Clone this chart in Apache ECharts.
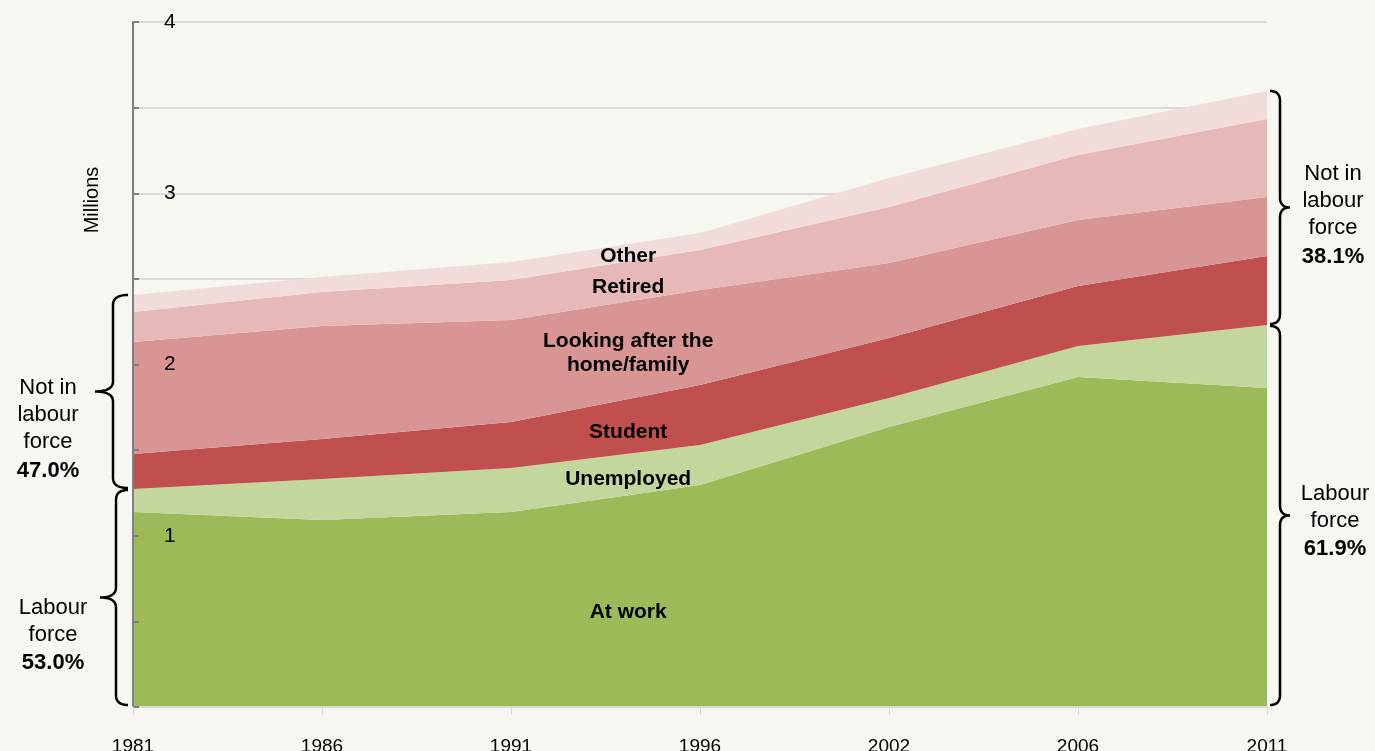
<!DOCTYPE html>
<html>
<head>
<meta charset="utf-8">
<script src="https://cdn.jsdelivr.net/npm/echarts@6/dist/echarts.min.js"></script>
<style>
  html, body { margin: 0; padding: 0; background: #f6f7f0; }
  #chart { width: 1375px; height: 751px; }
</style>
</head>
<body>
<div id="chart"></div>
<script>
const years = ['1981', '1986', '1991', '1996', '2002', '2006', '2011']
// millions of people
const atWork     = [1.139, 1.092, 1.139, 1.296, 1.635, 1.927, 1.863]
const unemployed = [0.134, 0.239, 0.257, 0.234, 0.169, 0.181, 0.368]
const student    = [0.204, 0.234, 0.268, 0.350, 0.351, 0.350, 0.403]
const homeFamily = [0.654, 0.660, 0.596, 0.555, 0.438, 0.386, 0.344]
const retired    = [0.176, 0.198, 0.233, 0.234, 0.327, 0.379, 0.456]
const other      = [0.099, 0.088, 0.106, 0.099, 0.169, 0.152, 0.163]

const seriesNames = ['At work', 'Unemployed', 'Student', 'Looking after the\nhome/family', 'Retired', 'Other']
const seriesData = [atWork, unemployed, student, homeFamily, retired, other]
const colors = ['#9bbb59', '#c3d69b', '#c0504d', '#d99594', '#e6b9b8', '#f2dcdb']

const firstShares = ['47.0%', '53.0%'] // not in labour force, labour force (1981)
const lastShares = ['38.1%', '61.9%']  // same for 2011

const FONT = 'Liberation Sans, Arial, sans-serif'

const chart = echarts.init(document.getElementById('chart'))

const yBase = { type: 'value', min: 0, max: 4, interval: 0.5 }

chart.setOption({
  backgroundColor: '#f6f7f0',
  animation: false,
  grid: { left: 133, right: 108, top: 22, bottom: 44, outerBoundsMode: 'none' },
  xAxis: {
    type: 'category',
    data: years,
    boundaryGap: false,
    axisLine: { lineStyle: { color: '#d9d9d9', width: 2 } },
    axisTick: { show: true, length: 8, lineStyle: { color: '#d9d9d9' } },
    axisLabel: { color: '#000', fontSize: 19, fontFamily: FONT, margin: 30, verticalAlign: 'top' },
    splitLine: { show: false },
    z: 10,
  },
  yAxis: [
    // grid lines only, behind the areas
    {
      ...yBase,
      axisLine: { show: false },
      axisTick: { show: false },
      axisLabel: { show: false },
      splitLine: { lineStyle: { color: '#d9d9d9', width: 2 } },
    },
    // axis line, ticks and labels on top
    {
      ...yBase,
      position: 'left',
      z: 10,
      axisLine: { show: true, lineStyle: { color: '#808080', width: 2 } },
      axisTick: { show: true, inside: true, length: 6, lineStyle: { color: '#808080', width: 2 } },
      axisLabel: {
        inside: true,
        margin: 31,
        color: '#000',
        fontSize: 21,
        fontFamily: FONT,
        padding: [8, 0, 0, 0],
        formatter: (v) => (v > 0 && v % 1 === 0 ? String(v) : ''),
      },
      splitLine: { show: false },
    },
  ],
  series: seriesNames.map((name, i) => ({
    name,
    type: 'line',
    stack: 'total',
    data: seriesData[i],
    symbol: 'none',
    lineStyle: { width: 0 },
    areaStyle: { color: colors[i], opacity: 1 },
    itemStyle: { color: colors[i] },
  })),
})

function px(idx, v) {
  return chart.convertToPixel({ gridIndex: 0 }, [years[idx], v])
}

function cumAt(idx, upto) {
  let s = 0
  for (let k = 0; k <= upto; k++) s += seriesData[k][idx]
  return s
}

function quad(pts, p0, c, p1) {
  for (let k = 1; k <= 10; k++) {
    const t = k / 10
    const u = 1 - t
    pts.push([u * u * p0[0] + 2 * u * t * c[0] + t * t * p1[0], u * u * p0[1] + 2 * u * t * c[1] + t * t * p1[1]])
  }
}

// curly brace from (x, y1) to (x, y2), bulging in dir
function bracePoints(x, y1, y2, dir, spine, tip) {
  const sx = x + dir * spine
  const tx = x + dir * tip
  const mid = (y1 + y2) / 2
  const r = 10
  const pts = [[x, y1]]
  quad(pts, [x, y1], [sx, y1], [sx, y1 + r])
  pts.push([sx, mid - r])
  quad(pts, [sx, mid - r], [sx, mid], [tx, mid])
  quad(pts, [tx, mid], [sx, mid], [sx, mid + r])
  pts.push([sx, y2 - r])
  quad(pts, [sx, y2 - r], [sx, y2], [x, y2])
  return pts
}

function brace(x, y1, y2, dir, spine, tip) {
  return {
    type: 'polyline',
    z: 100,
    shape: { points: bracePoints(x, y1, y2, dir, spine, tip) },
    style: { stroke: '#000', lineWidth: 2.5, fill: null },
  }
}

function braceText(x, y, lines, share) {
  return {
    type: 'text',
    x, y,
    z: 100,
    style: {
      text: lines + '\n{b|' + share + '}',
      font: '22px ' + FONT,
      fill: '#000',
      align: 'center',
      verticalAlign: 'middle',
      lineHeight: 27,
      rich: { b: { font: 'bold 22px ' + FONT, fill: '#000', lineHeight: 30 } },
    },
  }
}

// small vertical nudges for the band labels
const labelNudge = [11, 5, 6, 3, 6, 4]

function layoutGraphics() {
  const g = []
  const last = years.length - 1
  const base0 = px(0, 0)
  const lab0 = px(0, cumAt(0, 1))
  const tot0 = px(0, cumAt(0, 5))
  const baseN = px(last, 0)
  const labN = px(last, cumAt(last, 1))
  const totN = px(last, cumAt(last, 5))

  const lx = base0[0] - 5
  g.push(brace(lx, tot0[1], lab0[1] - 1, -1, 15, 33))
  g.push(brace(lx, lab0[1] + 1, base0[1] - 2, -1, 12, 28))
  const rx = baseN[0] + 3
  g.push(brace(rx, totN[1], labN[1] - 1, 1, 10, 20))
  g.push(brace(rx, labN[1] + 1, baseN[1] - 2, 1, 10, 20))

  g.push(braceText(48, (tot0[1] + lab0[1]) / 2 + 38, 'Not in\nlabour\nforce', firstShares[0]))
  g.push(braceText(53, (lab0[1] + base0[1]) / 2 + 38, 'Labour\nforce', firstShares[1]))
  g.push(braceText(1333, (totN[1] + labN[1]) / 2 + 8, 'Not in\nlabour\nforce', lastShares[0]))
  g.push(braceText(1335, (labN[1] + baseN[1]) / 2 + 6, 'Labour\nforce', lastShares[1]))

  // band labels sit between 1991 and 1996
  const t = 0.62
  seriesNames.forEach((name, i) => {
    const a = px(2, (cumAt(2, i) + (i ? cumAt(2, i - 1) : 0)) / 2)
    const b = px(3, (cumAt(3, i) + (i ? cumAt(3, i - 1) : 0)) / 2)
    g.push({
      type: 'text',
      x: a[0] + (b[0] - a[0]) * t,
      y: a[1] + (b[1] - a[1]) * t + labelNudge[i],
      z: 100,
      style: {
        text: name,
        font: 'bold 21px ' + FONT,
        fill: '#000',
        align: 'center',
        verticalAlign: 'middle',
        lineHeight: 24,
      },
    })
  })

  g.push({
    type: 'text',
    x: 92, y: 200,
    rotation: Math.PI / 2,
    z: 100,
    style: {
      text: 'Millions',
      font: '20px ' + FONT,
      fill: '#000',
      align: 'center',
      verticalAlign: 'middle',
    },
  })

  chart.setOption({ graphic: g })
}

layoutGraphics()
window.addEventListener('resize', () => chart.resize())
</script>
</body>
</html>
